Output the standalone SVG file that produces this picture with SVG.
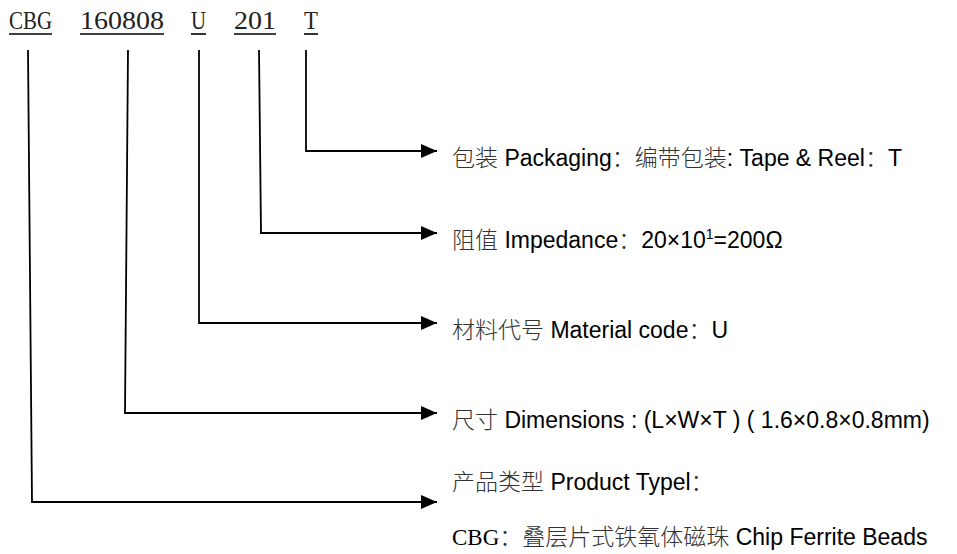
<svg xmlns="http://www.w3.org/2000/svg" width="957" height="554" viewBox="0 0 957 554">
<defs>
<marker id="arr" viewBox="0 0 16 14" refX="16" refY="7" markerWidth="16" markerHeight="14" markerUnits="userSpaceOnUse" orient="auto">
<path d="M0 0 L16 7 L0 14 Z" fill="#000"/>
</marker>
<style>
.code{font-family:"Liberation Serif","Noto Sans CJK SC",serif;font-size:26px;fill:#222}
.ul{stroke:#000;stroke-width:1.6}
.lbl{font-family:"Liberation Sans","Noto Sans CJK SC",sans-serif;font-size:23px;fill:#000}
.cjk{font-family:"Noto Sans CJK SC",sans-serif;font-weight:300;fill:#333}
.serif{font-family:"Liberation Serif","Noto Sans CJK SC",serif}
.conn{fill:none;stroke:#000;stroke-width:1.8;marker-end:url(#arr)}
</style>
</defs>
<rect width="957" height="554" fill="#fff"/>
<g id="code">
<text class="code" x="9" y="29" textLength="43" lengthAdjust="spacingAndGlyphs">CBG</text>
<text class="code" x="80" y="29" textLength="84" lengthAdjust="spacingAndGlyphs">160808</text>
<text class="code" x="191" y="29" textLength="15" lengthAdjust="spacingAndGlyphs">U</text>
<text class="code" x="234" y="29" textLength="42" lengthAdjust="spacingAndGlyphs">201</text>
<text class="code" x="304" y="29" textLength="14" lengthAdjust="spacingAndGlyphs">T</text>
<line class="ul" x1="9" y1="34" x2="52" y2="34"/>
<line class="ul" x1="80" y1="34" x2="164" y2="34"/>
<line class="ul" x1="191" y1="34" x2="206" y2="34"/>
<line class="ul" x1="234" y1="34" x2="276" y2="34"/>
<line class="ul" x1="304" y1="34" x2="318" y2="34"/>
</g>
<g id="connectors">
<path class="conn" d="M306 50 V151 H437"/>
<path class="conn" d="M259 50 L261 233 H437"/>
<path class="conn" d="M199 50 V323 H437"/>
<path class="conn" d="M128 50 L125 413 H437"/>
<path class="conn" d="M28 50 L32 502 H437"/>
</g>
<g id="packaging">
<text class="lbl" x="452" y="166"><tspan class="cjk">包装</tspan> Packaging<tspan class="cjk">：编带包装</tspan>: Tape &amp; Reel<tspan class="cjk">：</tspan>T</text>
</g>
<g id="impedance">
<text class="lbl" x="452" y="248"><tspan class="cjk">阻值</tspan> Impedance<tspan class="cjk">：</tspan>20×10<tspan font-size="14" dy="-9">1</tspan><tspan dy="9">=200Ω</tspan></text>
</g>
<g id="material">
<text class="lbl" x="452" y="338"><tspan class="cjk">材料代号</tspan> Material code<tspan class="cjk">：</tspan>U</text>
</g>
<g id="dimensions">
<text class="lbl" x="452" y="428"><tspan class="cjk">尺寸</tspan> Dimensions : (L×W×T ) ( 1.6×0.8×0.8mm)</text>
</g>
<g id="product-type">
<text class="lbl" x="452" y="490"><tspan class="cjk">产品类型</tspan> Product Typel<tspan class="cjk">：</tspan></text>
<text class="lbl" x="452" y="545"><tspan class="serif">CBG</tspan><tspan class="cjk">：叠层片式铁氧体磁珠</tspan> Chip Ferrite Beads</text>
</g>
</svg>
